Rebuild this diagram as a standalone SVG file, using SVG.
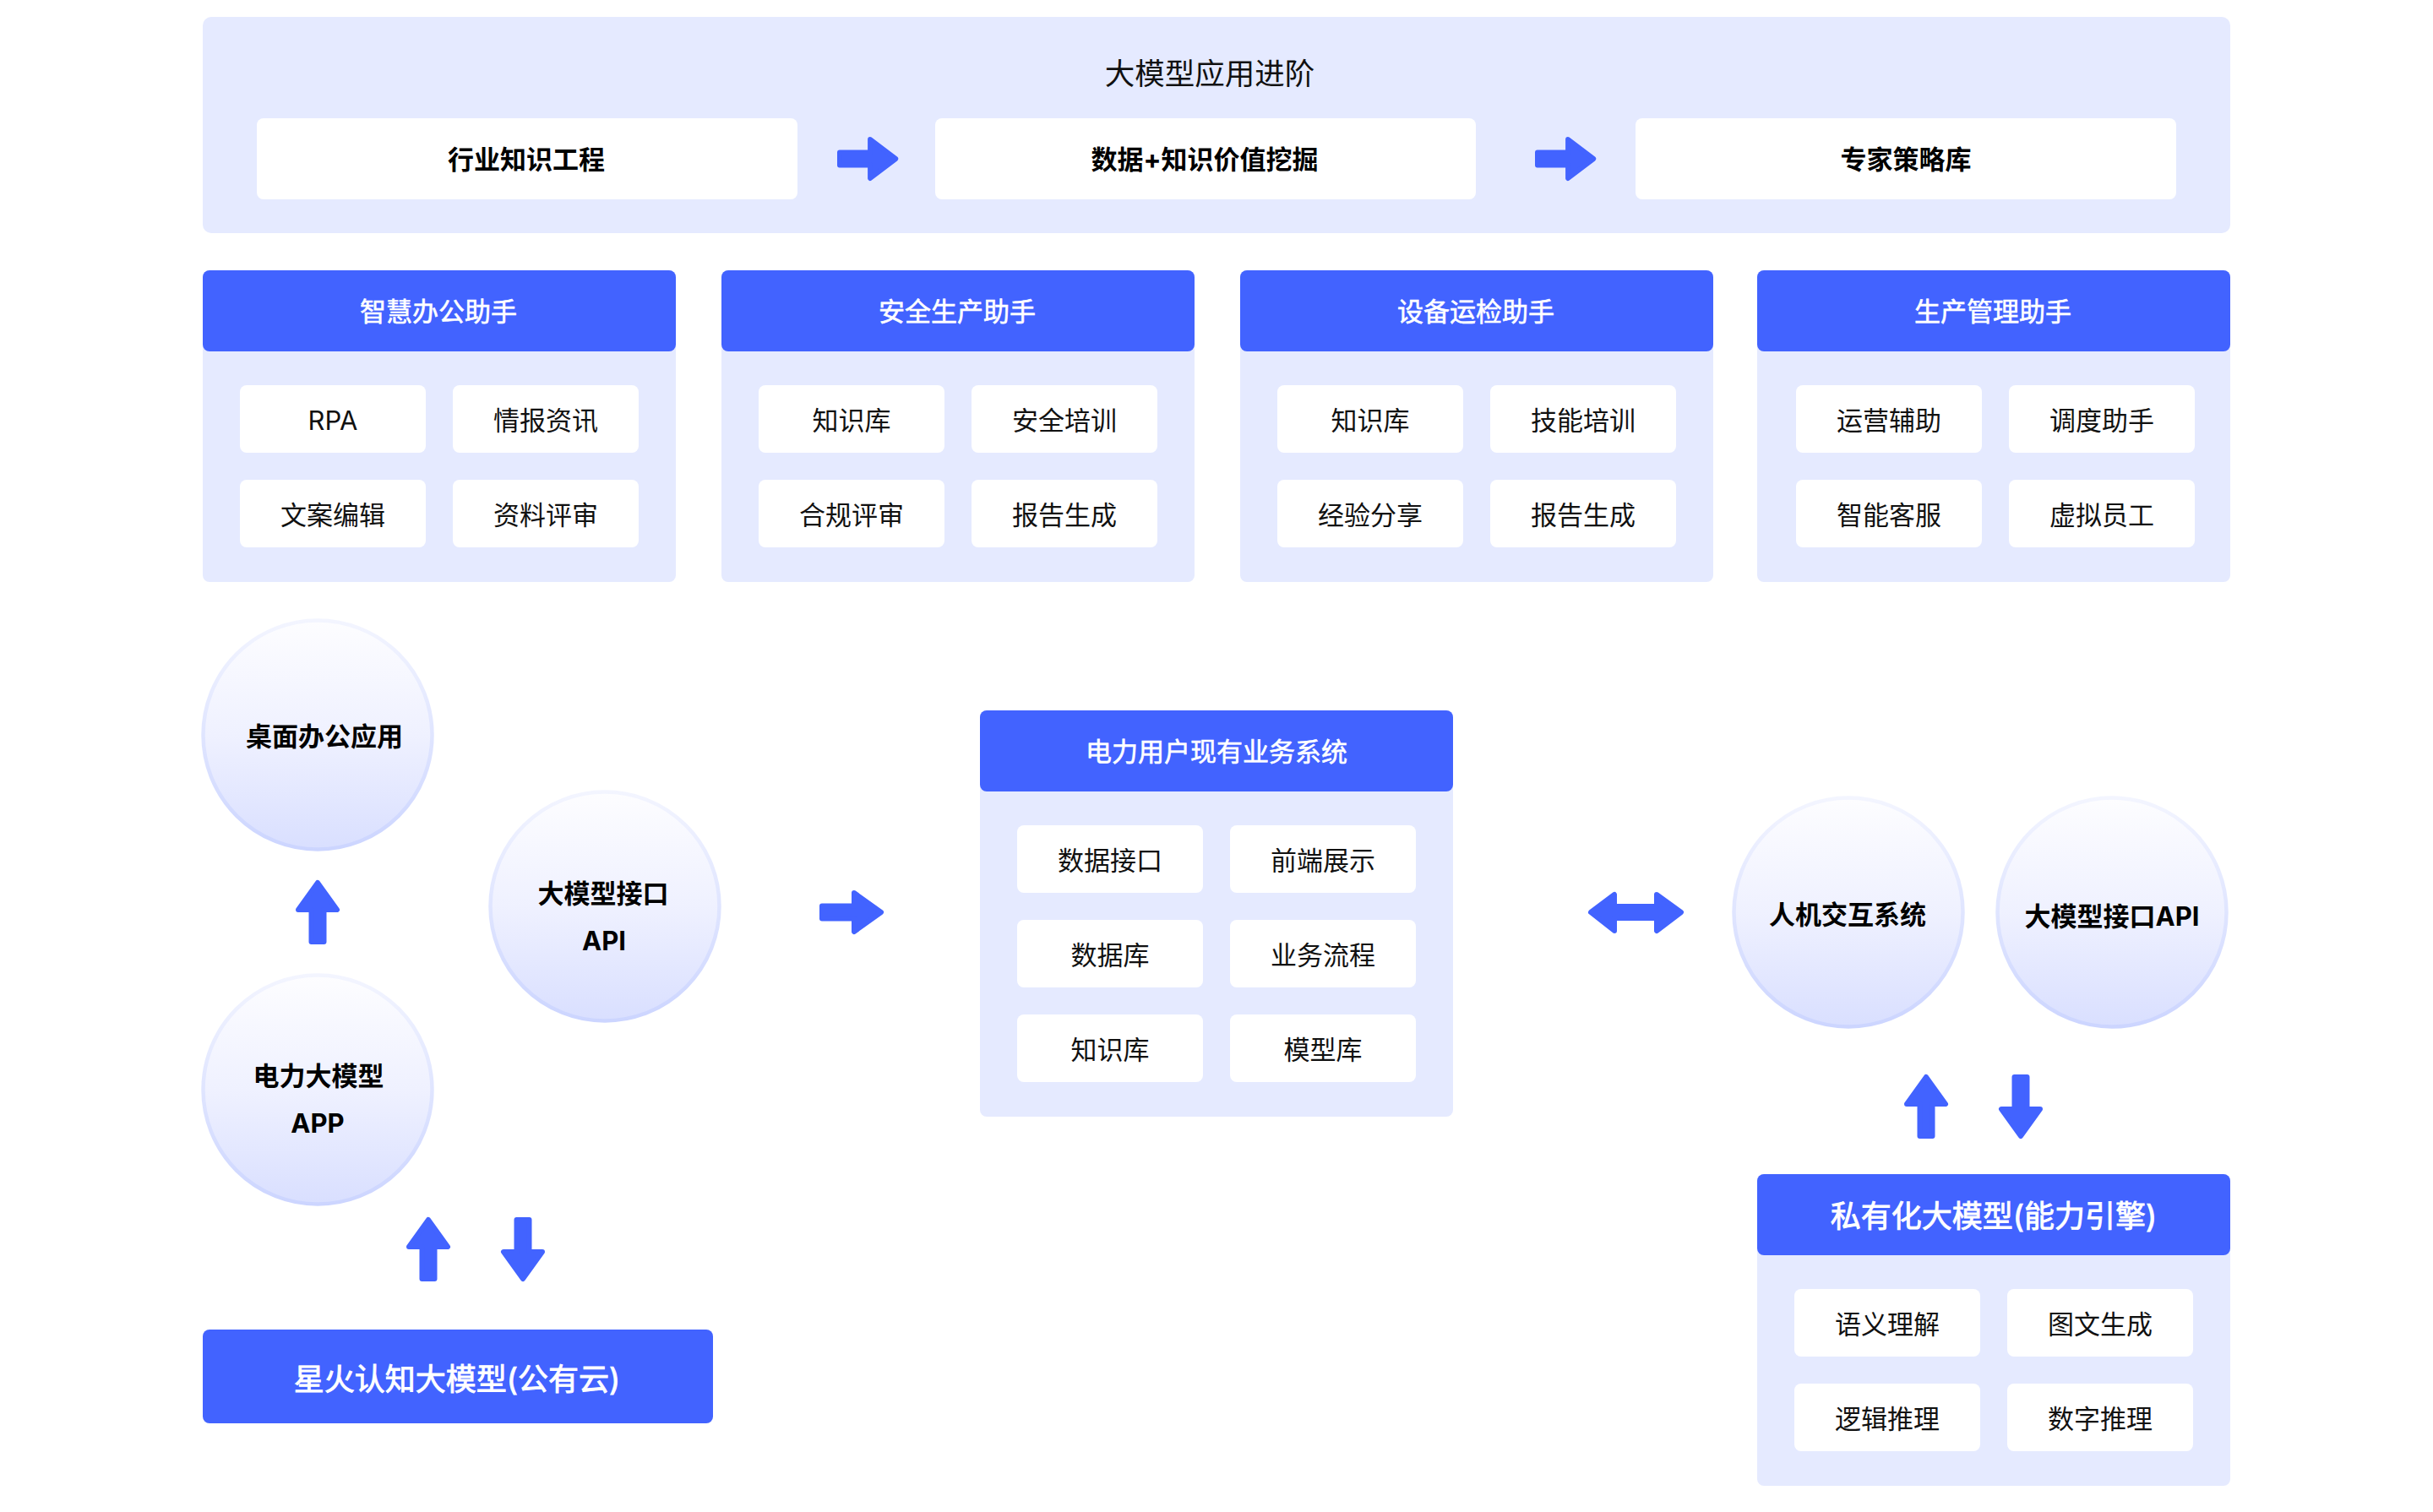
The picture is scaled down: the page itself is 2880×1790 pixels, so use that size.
<svg xmlns="http://www.w3.org/2000/svg" xmlns:xlink="http://www.w3.org/1999/xlink" width="2880" height="1790" viewBox="0 0 2880 1790">
<style>
text{font-family:Inter,"Noto Sans CJK SC","Noto Sans",sans-serif;text-anchor:middle;dominant-baseline:central;transform:translateY(1.5px)}
.p{fill:#e5eaff}
.h{fill:#4263ff}
.w{fill:#fff}
.t{font-size:31px;fill:#111}
.b{font-size:31px;font-weight:700;fill:#000}
.ht{font-size:31px;fill:#fff;stroke:#fff;stroke-width:.6}
.hl{font-size:36px;fill:#fff;stroke:#fff;stroke-width:.9}
.tt{font-size:35.5px;fill:#111}
.c{fill:url(#cf);stroke:url(#cs);stroke-width:4.5}
.a{fill:#4263ff;stroke:#4263ff;stroke-width:6;stroke-linejoin:round}
</style>
<defs>
<linearGradient id="cf" x1="0" y1="0" x2="0" y2="1"><stop offset="0" stop-color="#fdfdff"/><stop offset="0.5" stop-color="#eff1ff"/><stop offset="1" stop-color="#d9dfff"/></linearGradient>
<linearGradient id="cs" x1="0" y1="0" x2="0" y2="1"><stop offset="0" stop-color="#f3f5ff"/><stop offset="1" stop-color="#ccd5ff"/></linearGradient>
<path id="ar" d="M3-7.500H41V-23L73 0 41 23V7.500H3Z"/>
</defs>

<g id="top-panel">
<rect class="p" x="240" y="20" width="2400" height="256" rx="10"/>
<text class="tt" x="1432" y="86">大模型应用进阶</text>
<rect class="w" x="304" y="140" width="640" height="96" rx="8"/><text class="b" x="623" y="187">行业知识工程</text>
<rect class="w" x="1107" y="140" width="640" height="96" rx="8"/><text class="b" x="1426" y="187">数据+知识价值挖掘</text>
<rect class="w" x="1936" y="140" width="640" height="96" rx="8"/><text class="b" x="2256" y="187">专家策略库</text>
</g>

<g id="card-office">
<rect class="p" x="240" y="320" width="560" height="369" rx="8"/>
<rect class="h" x="240" y="320" width="560" height="96" rx="8"/><text class="ht" x="519" y="367">智慧办公助手</text>
<rect class="w" x="284" y="456" width="220" height="80" rx="8"/><text class="t" x="394" y="496">RPA</text>
<rect class="w" x="536" y="456" width="220" height="80" rx="8"/><text class="t" x="646" y="496">情报资讯</text>
<rect class="w" x="284" y="568" width="220" height="80" rx="8"/><text class="t" x="394" y="608">文案编辑</text>
<rect class="w" x="536" y="568" width="220" height="80" rx="8"/><text class="t" x="646" y="608">资料评审</text>
</g>
<g id="card-safety">
<rect class="p" x="854" y="320" width="560" height="369" rx="8"/>
<rect class="h" x="854" y="320" width="560" height="96" rx="8"/><text class="ht" x="1133" y="367">安全生产助手</text>
<rect class="w" x="898" y="456" width="220" height="80" rx="8"/><text class="t" x="1008" y="496">知识库</text>
<rect class="w" x="1150" y="456" width="220" height="80" rx="8"/><text class="t" x="1260" y="496">安全培训</text>
<rect class="w" x="898" y="568" width="220" height="80" rx="8"/><text class="t" x="1008" y="608">合规评审</text>
<rect class="w" x="1150" y="568" width="220" height="80" rx="8"/><text class="t" x="1260" y="608">报告生成</text>
</g>
<g id="card-device">
<rect class="p" x="1468" y="320" width="560" height="369" rx="8"/>
<rect class="h" x="1468" y="320" width="560" height="96" rx="8"/><text class="ht" x="1747" y="367">设备运检助手</text>
<rect class="w" x="1512" y="456" width="220" height="80" rx="8"/><text class="t" x="1622" y="496">知识库</text>
<rect class="w" x="1764" y="456" width="220" height="80" rx="8"/><text class="t" x="1874" y="496">技能培训</text>
<rect class="w" x="1512" y="568" width="220" height="80" rx="8"/><text class="t" x="1622" y="608">经验分享</text>
<rect class="w" x="1764" y="568" width="220" height="80" rx="8"/><text class="t" x="1874" y="608">报告生成</text>
</g>
<g id="card-production">
<rect class="p" x="2080" y="320" width="560" height="369" rx="8"/>
<rect class="h" x="2080" y="320" width="560" height="96" rx="8"/><text class="ht" x="2359" y="367">生产管理助手</text>
<rect class="w" x="2126" y="456" width="220" height="80" rx="8"/><text class="t" x="2236" y="496">运营辅助</text>
<rect class="w" x="2378" y="456" width="220" height="80" rx="8"/><text class="t" x="2488" y="496">调度助手</text>
<rect class="w" x="2126" y="568" width="220" height="80" rx="8"/><text class="t" x="2236" y="608">智能客服</text>
<rect class="w" x="2378" y="568" width="220" height="80" rx="8"/><text class="t" x="2488" y="608">虚拟员工</text>
</g>

<g id="circle-desktop"><circle class="c" cx="376" cy="870" r="135.5"/><text class="b" x="384" y="870">桌面办公应用</text></g>
<g id="circle-api"><circle class="c" cx="716" cy="1073" r="135.5"/><text class="b" x="714" y="1056">大模型接口</text><text class="b" x="715" y="1112">API</text></g>
<g id="circle-app"><circle class="c" cx="376" cy="1290" r="135.5"/><text class="b" x="377" y="1272">电力大模型</text><text class="b" x="376" y="1328">APP</text></g>
<g id="box-spark"><rect class="h" x="240" y="1574" width="604" height="111" rx="8"/><text class="hl" x="541" y="1631">星火认知大模型(公有云)</text></g>

<g id="card-system">
<rect class="p" x="1160" y="841" width="560" height="481" rx="8"/>
<rect class="h" x="1160" y="841" width="560" height="96" rx="8"/><text class="ht" x="1440" y="888">电力用户现有业务系统</text>
<rect class="w" x="1204" y="977" width="220" height="80" rx="8"/><text class="t" x="1314" y="1017">数据接口</text>
<rect class="w" x="1456" y="977" width="220" height="80" rx="8"/><text class="t" x="1566" y="1017">前端展示</text>
<rect class="w" x="1204" y="1089" width="220" height="80" rx="8"/><text class="t" x="1314" y="1129">数据库</text>
<rect class="w" x="1456" y="1089" width="220" height="80" rx="8"/><text class="t" x="1566" y="1129">业务流程</text>
<rect class="w" x="1204" y="1201" width="220" height="80" rx="8"/><text class="t" x="1314" y="1241">知识库</text>
<rect class="w" x="1456" y="1201" width="220" height="80" rx="8"/><text class="t" x="1566" y="1241">模型库</text>
</g>

<g id="circle-hci"><circle class="c" cx="2188" cy="1080" r="135.5"/><text class="b" x="2187" y="1081">人机交互系统</text></g>
<g id="circle-api2"><circle class="c" cx="2500" cy="1080" r="135.5"/><text class="b" x="2500" y="1083">大模型接口API</text></g>

<g id="card-private">
<rect class="p" x="2080" y="1390" width="560" height="369" rx="8"/>
<rect class="h" x="2080" y="1390" width="560" height="96" rx="8"/><text class="hl" x="2360" y="1438">私有化大模型(能力引擎)</text>
<rect class="w" x="2124" y="1526" width="220" height="80" rx="8"/><text class="t" x="2234" y="1566">语义理解</text>
<rect class="w" x="2376" y="1526" width="220" height="80" rx="8"/><text class="t" x="2486" y="1566">图文生成</text>
<rect class="w" x="2124" y="1638" width="220" height="80" rx="8"/><text class="t" x="2234" y="1678">逻辑推理</text>
<rect class="w" x="2376" y="1638" width="220" height="80" rx="8"/><text class="t" x="2486" y="1678">数字推理</text>
</g>

<g id="connectors">
<use class="a" xlink:href="#ar" transform="translate(991 188) scale(.95 1)"/>
<use class="a" xlink:href="#ar" transform="translate(1817 188) scale(.95 1)"/>
<use class="a" xlink:href="#ar" transform="translate(970 1080)"/>
<use class="a" xlink:href="#ar" transform="translate(376 1118) rotate(-90)"/>
<use class="a" xlink:href="#ar" transform="translate(507 1517) rotate(-90)"/>
<use class="a" xlink:href="#ar" transform="translate(619 1441) rotate(90)"/>
<use class="a" xlink:href="#ar" transform="translate(2280 1348) rotate(-90)"/>
<use class="a" xlink:href="#ar" transform="translate(2392 1272) rotate(90)"/>
<path class="a" d="M1883 1080 1911 1059V1073H1961V1059L1990 1080 1961 1102V1087H1911V1102Z"/>
</g>
</svg>
